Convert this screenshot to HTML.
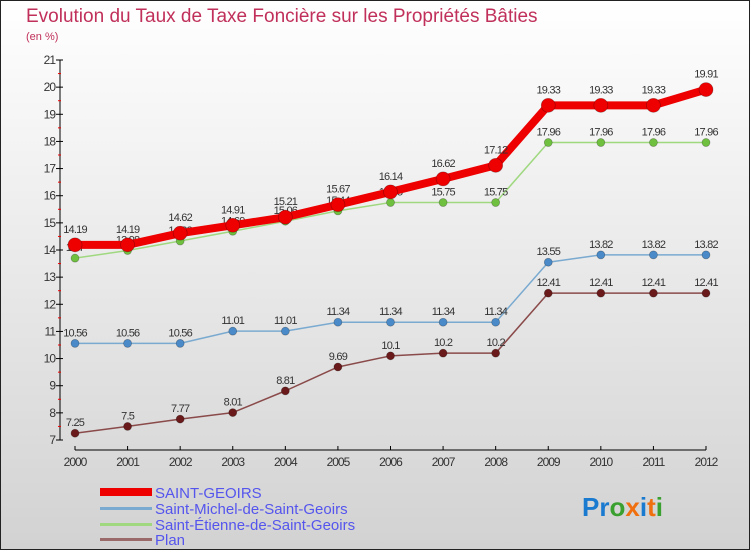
<!DOCTYPE html>
<html><head><meta charset="utf-8"><style>
html,body{margin:0;padding:0}
body{width:750px;height:550px;overflow:hidden;font-family:"Liberation Sans",sans-serif}
</style></head><body>
<svg id="chart" width="750" height="550" xmlns="http://www.w3.org/2000/svg">
<defs><linearGradient id="bg" x1="0" y1="0" x2="0" y2="1"><stop offset="0" stop-color="#ffffff"/><stop offset="1" stop-color="#d2d2d2"/></linearGradient></defs>
<rect x="0.5" y="0.5" width="749" height="549" fill="url(#bg)" stroke="#222" stroke-width="1"/>
<text x="26" y="22" font-size="19" fill="#c0305a" font-weight="300">Evolution du Taux de Taxe Foncière sur les Propriétés Bâties</text>
<text x="26" y="40" font-size="11" fill="#c0305a">(en %)</text>
<g id="axes"></g><g id="series"></g>
<g font-size="15" fill="#5555ee">
<rect x="100" y="488" width="52" height="8" fill="#e00"/>
<text x="155" y="498" fill="#5555ee">SAINT-GEOIRS</text>
<rect x="100" y="507" width="52" height="3" fill="#7aaad0"/>
<text x="155" y="514" fill="#5555ee">Saint-Michel-de-Saint-Geoirs</text>
<rect x="100" y="523" width="52" height="3" fill="#a0d880"/>
<text x="155" y="530" fill="#5555ee">Saint-Étienne-de-Saint-Geoirs</text>
<rect x="100" y="538" width="52" height="3" fill="#9a6a6a"/>
<text x="155" y="545" fill="#5555ee">Plan</text>
</g>
<text x="582" y="516" font-size="26" font-weight="bold"><tspan fill="#1a7ad0">Pr</tspan><tspan fill="#3aa030">o</tspan><tspan fill="#f07010">x</tspan><tspan fill="#1a7ad0">i</tspan><tspan fill="#f07010">t</tspan><tspan fill="#3aa030">i</tspan></text>
</svg>
<script>
const years=[2000,2001,2002,2003,2004,2005,2006,2007,2008,2009,2010,2011,2012];
const saintGeoirs=[14.19,14.19,14.62,14.91,15.21,15.67,16.14,16.62,17.12,19.33,19.33,19.33,19.91];
const saintMichel=[10.56,10.56,10.56,11.01,11.01,11.34,11.34,11.34,11.34,13.55,13.82,13.82,13.82];
const saintEtienne=[13.7,13.98,14.33,14.69,15.06,15.44,15.75,15.75,15.75,17.96,17.96,17.96,17.96];
const plan=[7.25,7.5,7.77,8.01,8.81,9.69,10.1,10.2,10.2,12.41,12.41,12.41,12.41];
const yTicks=[7,8,9,10,11,12,13,14,15,16,17,18,19,20,21];
const NS="http://www.w3.org/2000/svg";
const yMin=7,yMax=21,yTop=60,yBot=440,xL=75,xR=706;
function xs(i){return xL+(xR-xL)*i/(years.length-1);}
function ys(v){return yBot-(v-yMin)/(yMax-yMin)*(yBot-yTop);}
function mk(tag,attrs,parent){const e=document.createElementNS(NS,tag);for(const k in attrs)e.setAttribute(k,attrs[k]);parent.appendChild(e);return e;}
const ax=document.getElementById('axes');
let l=mk('line',{x1:60,y1:yTop,x2:60,y2:yBot,stroke:'#000'},ax);


l=mk('line',{x1:xL,y1:450,x2:xR,y2:450,stroke:'#000'},ax);


yTicks.forEach(v=>{
 const y=ys(v);
 mk('line',{x1:56,y1:y,x2:63,y2:y,stroke:'#000'},ax);
 if(v<yMax) mk('line',{x1:58,y1:y-(yBot-yTop)/28,x2:61,y2:y-(yBot-yTop)/28,stroke:'#e00'},ax);
 const t=mk('text',{x:55,y:y+4,'font-size':12,'text-anchor':'end',fill:'#333','letter-spacing':'-1'},ax);
 t.textContent=v;
 
 
});
years.forEach((yr,i)=>{
 const x=xs(i);
 mk('line',{x1:x,y1:446,x2:x,y2:450,stroke:'#000'},ax);
 const t=mk('text',{x:x,y:466,'font-size':12,'text-anchor':'middle',fill:'#333','letter-spacing':'-1'},ax);
 t.textContent=yr;
 
 
});
const sg=document.getElementById('series');
function draw(vals,name,color,dot,w,r,off){
 const g=mk('g',{},sg);
 
 
 const pl=mk('polyline',{points:vals.map((v,i)=>xs(i)+','+ys(v)).join(' '),fill:'none',stroke:color,'stroke-width':w,'stroke-linejoin':'round'},g);
 
 
 vals.forEach((v,i)=>{
  const c=mk('circle',{cx:xs(i),cy:ys(v),r:r,fill:dot,stroke:'rgba(0,0,0,0.3)','stroke-width':0.7},g);
  
  
  const t=mk('text',{x:xs(i),y:ys(v)-off,'font-size':11,'text-anchor':'middle',fill:'#333','letter-spacing':'-0.8'},g);
  t.textContent=v;
  
  
 });
}
draw(plan,'plan','#8a4a4a','#6a1a1a',1.5,4,7);
draw(saintMichel,'saint-michel','#7aaad0','#4a8ac8',1.5,4,7);
draw(saintEtienne,'saint-etienne','#a0d880','#70c040',1.5,4,7);
draw(saintGeoirs,'saint-geoirs','#e00','#e00',8,7,12);
</script>
</body></html>
